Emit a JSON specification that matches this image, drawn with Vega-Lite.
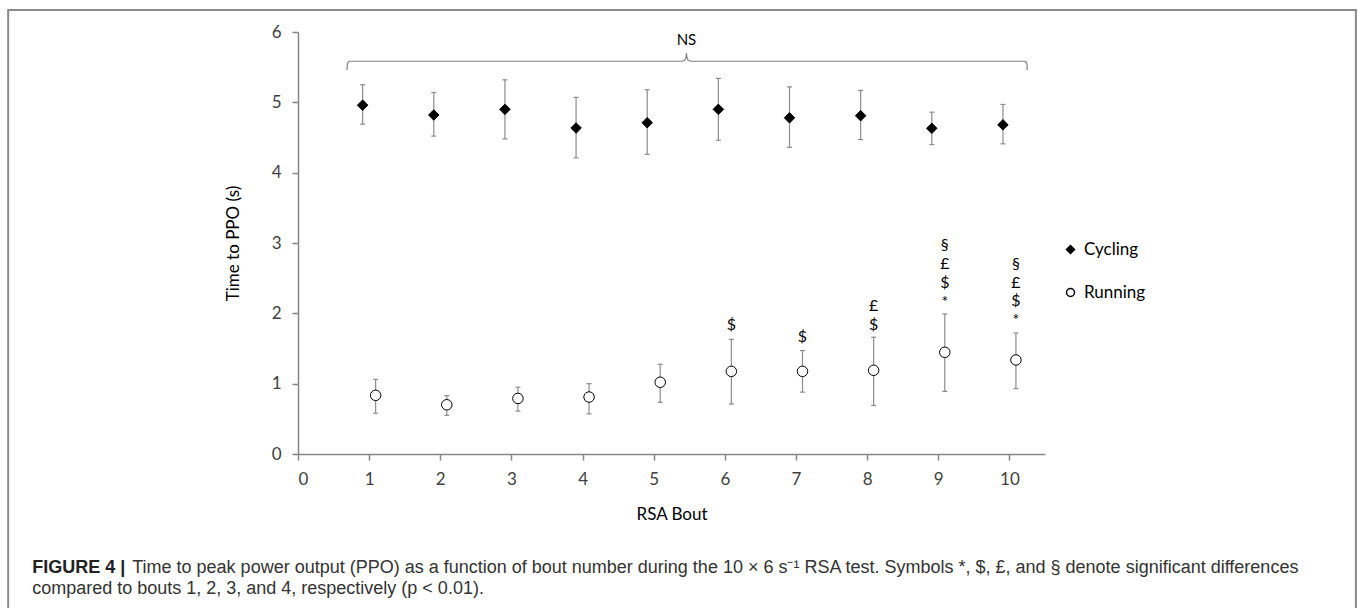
{
  "$schema": "https://vega.github.io/schema/vega-lite/v6.json",
  "width": 747,
  "height": 422,
  "autosize": "none",
  "padding": {"left": 298, "top": 32, "right": 313, "bottom": 154},
  "background": "white",
  "config": {"view": {"stroke": null}, "font": "Lato"},
  "datasets": {
    "pts": [
      {"bout": 1, "series": "Cycling", "val": 4.96, "lo": 4.69, "hi": 5.25},
      {"bout": 2, "series": "Cycling", "val": 4.82, "lo": 4.52, "hi": 5.14},
      {"bout": 3, "series": "Cycling", "val": 4.90, "lo": 4.48, "hi": 5.32},
      {"bout": 4, "series": "Cycling", "val": 4.635, "lo": 4.21, "hi": 5.07},
      {"bout": 5, "series": "Cycling", "val": 4.71, "lo": 4.26, "hi": 5.18},
      {"bout": 6, "series": "Cycling", "val": 4.90, "lo": 4.46, "hi": 5.34},
      {"bout": 7, "series": "Cycling", "val": 4.78, "lo": 4.36, "hi": 5.22},
      {"bout": 8, "series": "Cycling", "val": 4.81, "lo": 4.47, "hi": 5.17},
      {"bout": 9, "series": "Cycling", "val": 4.63, "lo": 4.40, "hi": 4.86},
      {"bout": 10, "series": "Cycling", "val": 4.68, "lo": 4.41, "hi": 4.97},
      {"bout": 1, "series": "Running", "val": 0.834, "lo": 0.58, "hi": 1.06},
      {"bout": 2, "series": "Running", "val": 0.70, "lo": 0.55, "hi": 0.83},
      {"bout": 3, "series": "Running", "val": 0.79, "lo": 0.61, "hi": 0.95},
      {"bout": 4, "series": "Running", "val": 0.81, "lo": 0.57, "hi": 1.00},
      {"bout": 5, "series": "Running", "val": 1.02, "lo": 0.735, "hi": 1.275},
      {"bout": 6, "series": "Running", "val": 1.175, "lo": 0.71, "hi": 1.63},
      {"bout": 7, "series": "Running", "val": 1.175, "lo": 0.88, "hi": 1.47},
      {"bout": 8, "series": "Running", "val": 1.19, "lo": 0.69, "hi": 1.66},
      {"bout": 9, "series": "Running", "val": 1.446, "lo": 0.89, "hi": 1.99},
      {"bout": 10, "series": "Running", "val": 1.337, "lo": 0.93, "hi": 1.72}
    ],
    "sig": [
      {"bout": 6, "label": "$", "val": 1.834},
      {"bout": 7, "label": "$", "val": 1.668},
      {"bout": 8, "label": "£", "val": 2.108},
      {"bout": 8, "label": "$", "val": 1.834},
      {"bout": 9, "label": "§", "val": 2.972},
      {"bout": 9, "label": "£", "val": 2.702},
      {"bout": 9, "label": "$", "val": 2.431},
      {"bout": 9, "label": "*", "val": 2.161},
      {"bout": 10, "label": "§", "val": 2.702},
      {"bout": 10, "label": "£", "val": 2.431},
      {"bout": 10, "label": "$", "val": 2.175},
      {"bout": 10, "label": "*", "val": 1.905}
    ],
    "brace": [
      {"order": 1, "bout": 0.689, "val": 5.46},
      {"order": 2, "bout": 0.692, "val": 5.53},
      {"order": 3, "bout": 0.70, "val": 5.565},
      {"order": 4, "bout": 0.72, "val": 5.584},
      {"order": 5, "bout": 5.40, "val": 5.584},
      {"order": 6, "bout": 5.44, "val": 5.60},
      {"order": 7, "bout": 5.455, "val": 5.65},
      {"order": 8, "bout": 5.46, "val": 5.697},
      {"order": 9, "bout": 5.465, "val": 5.65},
      {"order": 10, "bout": 5.48, "val": 5.60},
      {"order": 11, "bout": 5.52, "val": 5.584},
      {"order": 12, "bout": 10.22, "val": 5.584},
      {"order": 13, "bout": 10.24, "val": 5.565},
      {"order": 14, "bout": 10.248, "val": 5.53},
      {"order": 15, "bout": 10.25, "val": 5.46}
    ]
  },
  "layer": [
    {
      "data": {"values": [{"bout": -4.074, "bout2": 14.87, "val": -2.64, "val2": 6.313}]},
      "mark": {"type": "rect", "fill": null, "stroke": "#8a8a8a", "strokeWidth": 2, "clip": false},
      "encoding": {
        "x": {"field": "bout", "type": "quantitative", "scale": {"domain": [0, 10.5], "nice": false, "zero": false},
          "axis": {"values": [0, 1, 2, 3, 4, 5, 6, 7, 8, 9, 10], "format": "d", "title": "RSA Bout", "grid": false, "domainColor": "#868686", "domainWidth": 1.5, "tickColor": "#868686", "tickWidth": 1.5, "tickSize": 6, "labelFont": "Lato", "labelFontSize": 17, "labelColor": "#404040", "labelPadding": 11, "titleFont": "Lato", "titleFontSize": 17, "titleFontWeight": "normal", "titleColor": "#000", "titlePadding": 19}},
        "x2": {"field": "bout2"},
        "y": {"field": "val", "type": "quantitative", "scale": {"domain": [0, 6], "nice": false},
          "axis": {"values": [0, 1, 2, 3, 4, 5, 6], "format": "d", "title": "Time to PPO (s)", "grid": false, "domainColor": "#868686", "domainWidth": 1.5, "tickColor": "#868686", "tickWidth": 1.5, "tickSize": 6, "labelFont": "Lato", "labelFontSize": 17, "labelColor": "#404040", "labelPadding": 11, "titleFont": "Lato", "titleFontSize": 17, "titleFontWeight": "normal", "titleColor": "#000", "titlePadding": 29}},
        "y2": {"field": "val2"}
      }
    },
    {
      "data": {"name": "brace"},
      "mark": {"type": "line", "color": "#7f7f7f", "strokeWidth": 1.2, "interpolate": "linear"},
      "encoding": {
        "x": {"field": "bout", "type": "quantitative"},
        "y": {"field": "val", "type": "quantitative"},
        "order": {"field": "order", "type": "quantitative"}
      }
    },
    {
      "data": {"values": [{"bout": 5.46, "val": 5.88, "label": "NS"}]},
      "mark": {"type": "text", "font": "Lato", "fontSize": 15, "color": "#000", "baseline": "middle", "align": "center"},
      "encoding": {
        "x": {"field": "bout", "type": "quantitative"},
        "y": {"field": "val", "type": "quantitative"},
        "text": {"field": "label"}
      }
    },
    {
      "data": {"name": "pts"},
      "transform": [{"filter": "datum.series === 'Cycling'"}],
      "layer": [
        {"mark": {"type": "rule", "color": "#8c8c8c", "strokeWidth": 1.2, "xOffset": -6.5},
         "encoding": {"y2": {"field": "hi"}}},
        {"mark": {"type": "tick", "orient": "horizontal", "color": "#8c8c8c", "size": 5, "thickness": 1.2, "xOffset": -6.5, "opacity": 1}},
        {"mark": {"type": "tick", "orient": "horizontal", "color": "#8c8c8c", "size": 5, "thickness": 1.2, "xOffset": -6.5, "opacity": 1},
         "encoding": {"y": {"field": "hi", "type": "quantitative"}}}
      ],
      "encoding": {
        "x": {"field": "bout", "type": "quantitative"},
        "y": {"field": "lo", "type": "quantitative"}
      }
    },
    {
      "data": {"name": "pts"},
      "transform": [{"filter": "datum.series === 'Running'"}],
      "layer": [
        {"mark": {"type": "rule", "color": "#8c8c8c", "strokeWidth": 1.2, "xOffset": 6.5},
         "encoding": {"y2": {"field": "hi"}}},
        {"mark": {"type": "tick", "orient": "horizontal", "color": "#8c8c8c", "size": 5, "thickness": 1.2, "xOffset": 6.5, "opacity": 1}},
        {"mark": {"type": "tick", "orient": "horizontal", "color": "#8c8c8c", "size": 5, "thickness": 1.2, "xOffset": 6.5, "opacity": 1},
         "encoding": {"y": {"field": "hi", "type": "quantitative"}}}
      ],
      "encoding": {
        "x": {"field": "bout", "type": "quantitative"},
        "y": {"field": "lo", "type": "quantitative"}
      }
    },
    {
      "data": {"name": "pts"},
      "transform": [{"filter": "datum.series === 'Cycling'"}],
      "mark": {"type": "point", "filled": true, "stroke": "#000", "strokeWidth": 1, "opacity": 1, "size": 110, "xOffset": -6.5},
      "encoding": {
        "x": {"field": "bout", "type": "quantitative"},
        "y": {"field": "val", "type": "quantitative"},
        "shape": {"field": "series", "type": "nominal", "scale": {"domain": ["Cycling", "Running"], "range": ["diamond", "circle"]},
          "legend": {"orient": "none", "legendX": 764, "legendY": 209, "title": null, "labelFont": "Lato", "labelFontSize": 17, "labelColor": "#000", "symbolSize": 64, "labelOffset": 5, "rowPadding": 25, "padding": 0,
            "encode": {"symbols": {"update": {"stroke": {"value": "#000"}, "strokeWidth": {"value": 1}}}}}},
        "fill": {"field": "series", "type": "nominal", "scale": {"domain": ["Cycling", "Running"], "range": ["#000000", "#ffffff"]},
          "legend": {"orient": "none", "legendX": 764, "legendY": 209, "title": null, "labelFont": "Lato", "labelFontSize": 17, "labelColor": "#000", "symbolSize": 64, "labelOffset": 5, "rowPadding": 25, "padding": 0,
            "encode": {"symbols": {"update": {"stroke": {"value": "#000"}, "strokeWidth": {"value": 1}}}}}}
      }
    },
    {
      "data": {"name": "pts"},
      "transform": [{"filter": "datum.series === 'Running'"}],
      "mark": {"type": "point", "filled": true, "stroke": "#000", "strokeWidth": 1, "opacity": 1, "size": 110, "xOffset": 6.5},
      "encoding": {
        "x": {"field": "bout", "type": "quantitative"},
        "y": {"field": "val", "type": "quantitative"},
        "shape": {"field": "series", "type": "nominal"},
        "fill": {"field": "series", "type": "nominal"}
      }
    },
    {
      "data": {"name": "sig"},
      "mark": {"type": "text", "font": "Lato", "fontSize": 16, "color": "#000", "baseline": "middle", "align": "center", "xOffset": 6.5},
      "encoding": {
        "x": {"field": "bout", "type": "quantitative"},
        "y": {"field": "val", "type": "quantitative"},
        "text": {"field": "label"}
      }
    },
    {
      "data": {"values": [{"bout": -3.737, "val": -1.62, "label": "FIGURE 4 |"}]},
      "mark": {"type": "text", "font": "Liberation Sans", "fontSize": 18, "fontWeight": "bold", "color": "#222", "baseline": "middle", "align": "left"},
      "encoding": {
        "x": {"field": "bout", "type": "quantitative"},
        "y": {"field": "val", "type": "quantitative"},
        "text": {"field": "label"}
      }
    },
    {
      "data": {"values": [
        {"bout": -2.33, "val": -1.62, "label": "Time to peak power output (PPO) as a function of bout number during the 10 × 6 s⁻¹ RSA test. Symbols *, $, £, and § denote significant differences"},
        {"bout": -3.737, "val": -1.92, "label": "compared to bouts 1, 2, 3, and 4, respectively (p < 0.01)."}
      ]},
      "mark": {"type": "text", "font": "Liberation Sans", "fontSize": 18, "color": "#333", "baseline": "middle", "align": "left"},
      "encoding": {
        "x": {"field": "bout", "type": "quantitative"},
        "y": {"field": "val", "type": "quantitative"},
        "text": {"field": "label"}
      }
    }
  ]
}
